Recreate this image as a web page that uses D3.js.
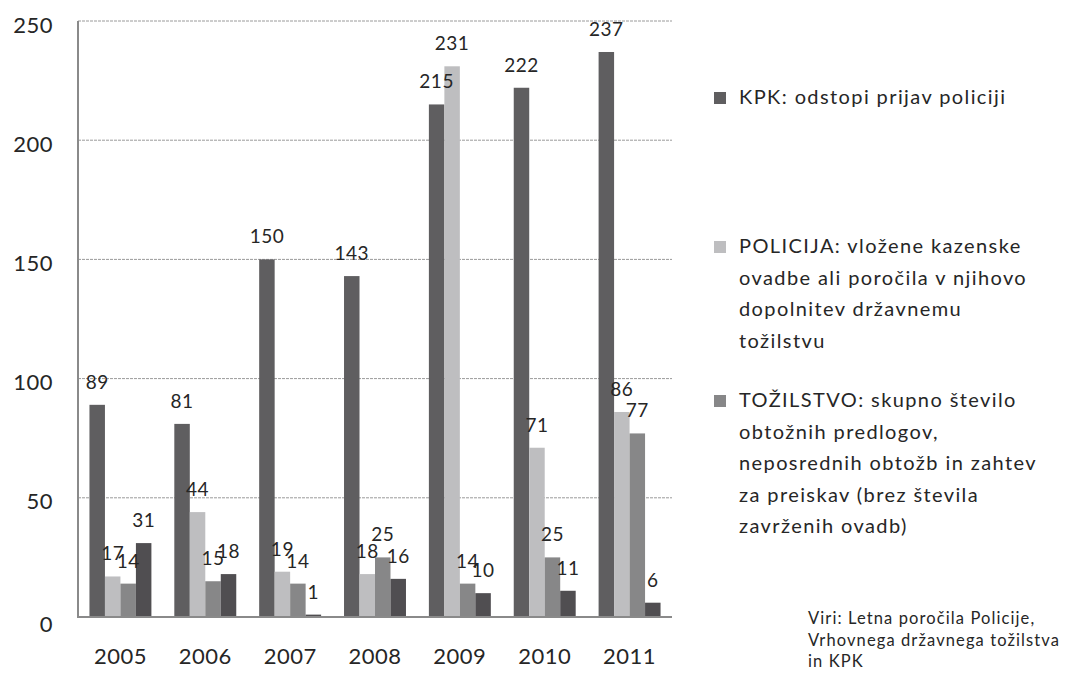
<!DOCTYPE html>
<html>
<head>
<meta charset="utf-8">
<script src="https://cdn.jsdelivr.net/npm/d3@7"></script>
<style>
  body { margin: 0; background: #fff; }
  text { font-family: Lato, "Open Sans", sans-serif; fill: #262626; }
</style>
</head>
<body>
<div id="chart"></div>
<script>
////// DATA

// Leta (kategorije)
var years = ["2005", "2006", "2007", "2008", "2009", "2010", "2011"];

// serije
var kpk       = [89, 81, 150, 143, 215, 222, 237];
var policija  = [17, 44, 19, 18, 231, 71, 86];
var tozilstvo = [14, 15, 14, 25, 14, 25, 77];
var ostalo    = [31, 18, 1, 16, 10, 11, 6];   // četrta serija, brez legende

var yTicks = [0, 50, 100, 150, 200, 250];

var seriesNames = ["kpk", "policija", "tozilstvo", "ostalo"];
var seriesValues = [kpk, policija, tozilstvo, ostalo];
var seriesColors = ["#5f5e60", "#bebec0", "#878788", "#504e51"];

// legenda (vrstice besedila)
var legendLines = [
  ["KPK: odstopi prijav policiji"],
  ["POLICIJA: vložene kazenske", "ovadbe ali poročila v njihovo", "dopolnitev državnemu", "tožilstvu"],
  ["TOŽILSTVO: skupno število", "obtožnih predlogov,", "neposrednih obtožb in zahtev", "za preiskav (brez števila", "zavrženih ovadb)"]
];
var sourceLines = ["Viri: Letna poročila Policije,", "Vrhovnega državnega tožilstva", "in KPK"];

////// CHART

var chartW = 1066, chartH = 673;
var plotLeft = 78, plotRight = 672, plotTop = 21, plotBottom = 617;

var svg = d3.select("#chart").append("svg")
  .attr("width", chartW)
  .attr("height", chartH);

var x0 = d3.scaleBand().domain(years).range([plotLeft, plotRight])
  .paddingInner(0.27).paddingOuter(0.135);
var x1 = d3.scaleBand().domain(seriesNames).range([0, x0.bandwidth()]);
var y = d3.scaleLinear().domain([0, 250]).range([plotBottom, plotTop]);

// mreža (črtkane črte)
svg.append("g").selectAll("line")
  .data(yTicks.filter(function(d) { return d > 0; }))
  .join("line")
  .attr("x1", plotLeft).attr("x2", plotRight)
  .attr("y1", function(d) { return y(d); })
  .attr("y2", function(d) { return y(d); })
  .style("stroke", "#9a9a9a")
  .style("stroke-width", 1)
  .style("stroke-dasharray", "3,1");

// y os
var yAxis = svg.append("g")
  .attr("transform", "translate(" + plotLeft + ",0)")
  .call(d3.axisLeft(y).tickValues(yTicks).tickSize(0).tickPadding(25));
yAxis.select(".domain").remove();
yAxis.selectAll("text")
  .style("font-family", "Lato, 'Open Sans', sans-serif")
  .style("font-size", "22px")
  .style("letter-spacing", "0.5px")
  .style("fill", "#262626")
  .attr("dy", function(d) { return d === 0 ? "0.66em" : "0.5em"; });

// stolpci
var groups = svg.append("g").selectAll("g")
  .data(years)
  .join("g")
  .attr("transform", function(d) { return "translate(" + x0(d) + ",0)"; });

groups.selectAll("rect")
  .data(function(d, i) {
    return seriesNames.map(function(s, k) { return { s: s, v: seriesValues[k][i], c: seriesColors[k] }; });
  })
  .join("rect")
  .attr("x", function(d) { return x1(d.s); })
  .attr("width", x1.bandwidth())
  .attr("y", function(d) { return y(d.v); })
  .attr("height", function(d) { return y(0) - y(d.v); })
  .style("fill", function(d) { return d.c; });

// oznake vrednosti
groups.selectAll("text.val")
  .data(function(d, i) {
    return seriesNames.map(function(s, k) { return { s: s, v: seriesValues[k][i] }; });
  })
  .join("text")
  .attr("class", "val")
  .attr("x", function(d) { return x1(d.s) + x1.bandwidth() / 2; })
  .attr("y", function(d) { return y(d.v) - 16; })
  .attr("text-anchor", "middle")
  .style("font-size", "19px")
  .style("letter-spacing", "0.5px")
  .text(function(d) { return d.v; });

// osi (črti)
svg.append("line")
  .attr("x1", plotLeft).attr("x2", plotLeft).attr("y1", plotTop).attr("y2", plotBottom + 1)
  .style("stroke", "#8a8a8a").style("stroke-width", 2);
svg.append("line")
  .attr("x1", plotLeft - 1).attr("x2", plotRight).attr("y1", plotBottom).attr("y2", plotBottom)
  .style("stroke", "#8a8a8a").style("stroke-width", 2);

// x os
var xAxis = svg.append("g")
  .attr("transform", "translate(0," + plotBottom + ")")
  .call(d3.axisBottom(x0).tickSize(0).tickPadding(31));
xAxis.select(".domain").remove();
xAxis.selectAll("text")
  .style("font-family", "Lato, 'Open Sans', sans-serif")
  .style("font-size", "22px")
  .style("letter-spacing", "0.5px")
  .style("fill", "#262626");

// legenda
var legendTops = [104, 253, 407];
var legend = svg.append("g");
legendLines.forEach(function(lines, k) {
  legend.append("rect")
    .attr("x", 714).attr("y", legendTops[k] - 12)
    .attr("width", 12).attr("height", 12)
    .style("fill", seriesColors[k]);
  lines.forEach(function(t, j) {
    legend.append("text")
      .attr("x", 739).attr("y", legendTops[k] + j * 31.6)
      .style("font-size", "20px")
      .style("letter-spacing", "1.4px")
      .text(t);
  });
});

// viri
sourceLines.forEach(function(t, j) {
  svg.append("text")
    .attr("x", 808).attr("y", 624 + j * 21.5)
    .style("font-size", "16.5px")
    .style("letter-spacing", "1.1px")
    .text(t);
});
</script>
</body>
</html>
